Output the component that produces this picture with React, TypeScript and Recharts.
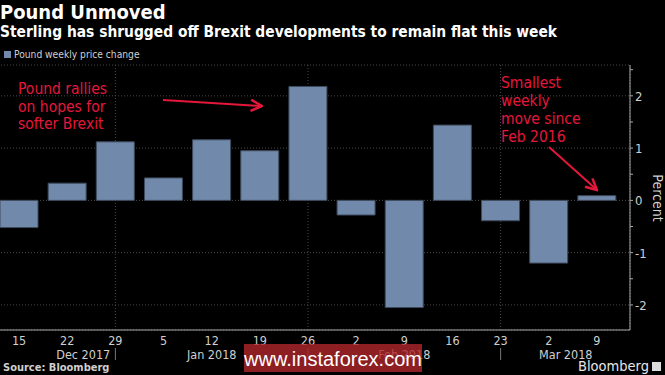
import { BarChart, Bar, XAxis, YAxis, CartesianGrid } from "recharts";

const DATES = [
  "2017-12-15", "2017-12-22", "2017-12-29", "2018-01-05", "2018-01-12", "2018-01-19", "2018-01-26",
  "2018-02-02", "2018-02-09", "2018-02-16", "2018-02-23", "2018-03-02", "2018-03-09",
];
const DAY_LABELS = ["15", "22", "29", "5", "12", "19", "26", "2", "9", "16", "23", "2", "9"];
const MONTH_LABELS = ["", "Dec 2017", "", "", "Jan 2018", "", "", "", "Feb 2018", "", "", "Mar 2018", ""];
const MONTH_BREAKS = ["2017-12-29", "2018-01-26", "2018-02-23"];
const WEEKLY_CHANGE = [-0.52, 0.33, 1.12, 0.43, 1.16, 0.95, 2.18, -0.28, -2.05, 1.44, -0.39, -1.2, 0.09];
const Y_TICKS = [-2, -1.5, -1, -0.5, 0, 0.5, 1, 1.5, 2, 2.5];
const Y_GRID = [-2, -1, 0, 1, 2];
const Y_DOMAIN = [-2.48, 2.59];

const BAR = "#7189aa";
const RED = "#e5173b";
const AXIS = "#a8a8a8";
const GRID = "#4a4a4a";
const TXT = "#cfcfcf";
const FONT = "'DejaVu Sans Condensed', 'Liberation Sans', sans-serif";

const data = DATES.map((d, i) => ({ date: d, day: DAY_LABELS[i], month: MONTH_LABELS[i], value: WEEKLY_CHANGE[i] }));

// month label nudges (Dec sits right-aligned to the first break, Mar centred in the last span)
const MONTH_DX: Record<number, number> = { 1: 16, 11: 17 };

function DayTick(props: Record<string, unknown>) {
  const x = props.x as number;
  const y = props.y as number;
  const payload = props.payload as { value: string; index: number };
  const row = data[payload.index];
  const isBreak = MONTH_BREAKS.includes(row.date);
  return (
    <g>
      <text x={x} y={y + 6.5} textAnchor="middle" fontSize={12.5} fill={TXT} fontFamily={FONT}>
        {row.day}
      </text>
      {row.month && (
        <text x={x + (MONTH_DX[payload.index] ?? 0)} y={y + 21} textAnchor="middle" fontSize={12.5} fill={TXT} fontFamily={FONT}>
          {row.month}
        </text>
      )}
      {isBreak && <line x1={x} x2={x} y1={y + 10} y2={y + 22} stroke="#777" strokeWidth={1} />}
    </g>
  );
}

function PctTick(props: Record<string, unknown>) {
  const x = props.x as number;
  const y = props.y as number;
  const payload = props.payload as { value: number | string };
  const v = Number(payload.value);
  if (Math.abs(v - Math.round(v)) > 1e-6) return null;
  return (
    <text x={x} y={y + 5} textAnchor="start" fontSize={13} fill={TXT} fontFamily={FONT}>
      {Math.round(v)}
    </text>
  );
}

export default function App() {
  return (
    <div
      style={{
        position: "fixed",
        left: 0,
        top: 0,
        width: 665,
        height: 375,
        background: "#000",
        overflow: "hidden",
        fontFamily: FONT,
      }}
    >
      <div style={{ position: "absolute", left: 0, top: 0, color: "#fff", fontSize: 20, fontWeight: 700, lineHeight: "25px" }}>
        Pound Unmoved
      </div>
      <div style={{ position: "absolute", left: 0, top: 23, color: "#fff", fontSize: 15.4, fontWeight: 700, lineHeight: "18px" }}>
        Sterling has shrugged off Brexit developments to remain flat this week
      </div>
      <div style={{ position: "absolute", left: 4, top: 48, color: TXT, fontSize: 10.2, lineHeight: "13px", display: "flex", alignItems: "center" }}>
        <span style={{ display: "inline-block", width: 7, height: 7, background: BAR, marginRight: 3 }} />
        Pound weekly price change
      </div>

      <div style={{ position: "absolute", left: -35, top: 0 }}>
        <BarChart width={700} height={375} data={data} margin={{ top: 65, right: 0, bottom: 0, left: 30 }} barSize={38}>
          {/* grid is driven by two hidden axes so only month breaks / whole percents get lines */}
          <CartesianGrid xAxisId="grid" yAxisId="grid" stroke={GRID} strokeDasharray="1 2" />
          <XAxis
            dataKey="date"
            axisLine={{ stroke: AXIS }}
            tickLine={false}
            interval={0}
            padding={{ left: 0, right: 9 }}
            tick={<DayTick />}
            height={45}
          />
          <XAxis xAxisId="grid" dataKey="date" hide ticks={MONTH_BREAKS} interval={0} padding={{ left: 0, right: 9 }} />
          <YAxis
            orientation="right"
            domain={Y_DOMAIN}
            ticks={Y_TICKS}
            allowDataOverflow
            width={35}
            axisLine={{ stroke: AXIS }}
            tickLine={{ stroke: AXIS }}
            tickSize={3}
            tickMargin={2}
            tick={<PctTick />}
          />
          <YAxis yAxisId="grid" orientation="right" hide domain={Y_DOMAIN} ticks={Y_GRID} allowDataOverflow />
          <Bar dataKey="value" fill={BAR} stroke="#3e4a5c" strokeWidth={1} isAnimationActive={false} />
        </BarChart>
      </div>

      <svg width={665} height={375} style={{ position: "absolute", left: 0, top: 0, pointerEvents: "none" }}>
        <defs>
          <marker id="arr" viewBox="0 0 10 10" refX="9" refY="5" markerWidth="7" markerHeight="7" orient="auto">
            <path d="M1,1 L9,5 L1,9" fill="none" stroke={RED} strokeWidth={1.8} />
          </marker>
        </defs>
        <g fontFamily={FONT} fontSize={15.5} fill={RED}>
          <text x={18} y={94}>Pound rallies</text>
          <text x={18} y={112}>on hopes for</text>
          <text x={18} y={129}>softer Brexit</text>
          <text x={501} y={88}>Smallest</text>
          <text x={501} y={106}>weekly</text>
          <text x={501} y={124}>move since</text>
          <text x={501} y={142}>Feb 2016</text>
        </g>
        <line x1={163} y1={100} x2={262} y2={106} stroke={RED} strokeWidth={2} markerEnd="url(#arr)" />
        <line x1={549} y1={147} x2={597} y2={190} stroke={RED} strokeWidth={2} markerEnd="url(#arr)" />
        <text transform="translate(653,198) rotate(90)" textAnchor="middle" fontSize={14} fill={TXT} fontFamily={FONT}>
          Percent
        </text>
        <text x={3} y={371} fontSize={11} fontWeight={700} fill={TXT} fontFamily={FONT}>
          Source: Bloomberg
        </text>
        <text x={649} y={371} textAnchor="end" fontSize={14.5} fill="#e6e6e6" fontFamily={FONT}>
          Bloomberg
        </text>
        <rect x={652} y={362} width={9} height={9} fill="#ddd" />
        <rect x={244} y={344} width={178} height={28} fill="#b0252b" opacity={0.8} />
        <text x={333} y={366} textAnchor="middle" fontSize={20} fill="#fff" fontFamily="'Liberation Sans', Arial, sans-serif">
          www.instaforex.com
        </text>
      </svg>
    </div>
  );
}
